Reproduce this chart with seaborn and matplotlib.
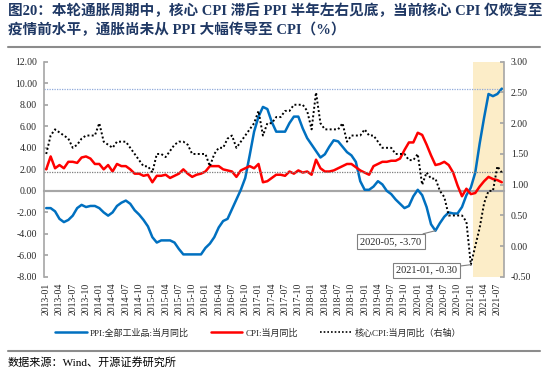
import matplotlib
matplotlib.use("Agg")
import matplotlib.pyplot as plt
from matplotlib.lines import Line2D
from matplotlib.ticker import MultipleLocator, FixedLocator
import seaborn as sns
import pandas as pd
import numpy as np

# ---------------- data ----------------
months = [d.strftime("%Y-%m") for d in pd.date_range("2013-01", "2021-08", freq="MS")]

ppi = [-1.6, -1.6, -1.9, -2.6, -2.9, -2.7, -2.3, -1.6, -1.3, -1.5, -1.4, -1.4,
       -1.6, -2.0, -2.3, -2.0, -1.4, -1.1, -0.9, -1.2, -1.8, -2.2, -2.7, -3.3,
       -4.3, -4.8, -4.6, -4.6, -4.6, -4.8, -5.4, -5.9, -5.9, -5.9, -5.9, -5.9,
       -5.3, -4.9, -4.3, -3.4, -2.8, -2.6, -1.7, -0.8, 0.1, 1.2, 3.3, 5.5,
       6.9, 7.8, 7.6, 6.4, 5.5, 5.5, 5.5, 6.3, 6.9, 6.9, 5.8, 4.9,
       4.3, 3.7, 3.1, 3.4, 4.1, 4.7, 4.6, 4.1, 3.6, 3.3, 2.7, 0.9,
       0.1, 0.1, 0.4, 0.9, 0.6, 0.0, -0.3, -0.8, -1.2, -1.6, -1.4, -0.5,
       0.1, -0.4, -1.5, -3.1, -3.7, -3.0, -2.4, -2.0, -2.1, -2.1, -1.5, -0.4,
       0.3, 1.7, 4.4, 6.8, 9.0, 8.8, 9.0, 9.5]

cpi = [2.0, 3.2, 2.1, 2.4, 2.1, 2.7, 2.7, 2.6, 3.1, 3.2, 3.0, 2.5,
       2.5, 2.0, 2.4, 1.8, 2.5, 2.3, 2.3, 2.0, 1.6, 1.6, 1.4, 1.5,
       0.8, 1.4, 1.4, 1.5, 1.2, 1.4, 1.6, 2.0, 1.6, 1.3, 1.5, 1.6,
       1.8, 2.3, 2.3, 2.3, 2.0, 1.9, 1.8, 1.3, 1.9, 2.1, 2.3, 2.1,
       2.5, 0.8, 0.9, 1.2, 1.5, 1.5, 1.4, 1.8, 1.6, 1.9, 1.7, 1.8,
       1.5, 2.9, 2.1, 1.8, 1.8, 1.9, 2.1, 2.3, 2.5, 2.5, 2.2, 1.9,
       1.7, 1.5, 2.3, 2.5, 2.7, 2.7, 2.8, 2.8, 3.0, 3.8, 4.5, 4.5,
       5.4, 5.2, 4.3, 3.3, 2.4, 2.5, 2.7, 2.4, 1.7, 0.5, -0.5, 0.2,
       -0.3, -0.2, 0.4, 0.9, 1.3, 1.1, 1.0, 0.8]

core = [1.5, 1.8, 1.9, 1.85, 1.8, 1.75, 1.6, 1.65, 1.75, 1.8, 1.8, 1.8,
        2.0, 1.7, 1.65, 1.6, 1.7, 1.7, 1.7, 1.6, 1.5, 1.4, 1.3, 1.3,
        1.2, 1.5, 1.5, 1.45, 1.55, 1.65, 1.7, 1.7, 1.65, 1.5, 1.5, 1.5,
        1.5, 1.3, 1.5, 1.6, 1.6, 1.75, 1.8, 1.6, 1.7, 1.8, 1.9, 2.0,
        2.2, 1.8, 2.0, 2.0, 2.1, 2.1, 2.2, 2.2, 2.3, 2.3, 2.3, 2.2,
        1.9, 2.5, 2.0, 1.9, 1.9, 1.9, 1.9, 2.0, 1.7, 1.8, 1.8, 1.8,
        1.9, 1.8, 1.8, 1.7, 1.6, 1.6, 1.6, 1.5, 1.5, 1.5, 1.4, 1.4,
        1.5, 1.0, 1.2, 1.1, 1.1, 0.9, 0.8, 0.5, 0.5, 0.5, 0.5, 0.4,
        -0.3, 0.0, 0.3, 0.7, 0.9, 0.9, 1.3, 1.2]

label_ppi = "PPI:全部工业品:当月同比"
label_cpi = "CPI:当月同比"
label_core = "核心CPI:当月同比（右轴）"
title_text = ("图20：本轮通胀周期中，核心 CPI 滞后 PPI 半年左右见底，当前核心 CPI 仅恢复至\n"
              "疫情前水平，通胀尚未从 PPI 大幅传导至 CPI（%）")
source_text = "数据来源：Wind、开源证券研究所"
annot_ppi_month = "2020-05"
annot_core_month = "2021-01"
shade_start_month = "2021-01"

# ---------------- style ----------------
sns.set_theme(style="white")
plt.rcParams["font.family"] = ["Liberation Serif", "Noto Sans CJK SC"]
plt.rcParams["axes.unicode_minus"] = False

df = pd.DataFrame({"idx": np.arange(len(months)), "month": months,
                   "ppi": ppi, "cpi": cpi, "core": core})

fig = plt.figure(figsize=(5.5, 3.77), dpi=100)
ax = fig.add_axes([44/550, 1-277/377, (504-44)/550, (277-61.7)/377])
ax2 = ax.twinx()

grey = "#A6A6A6"
n = len(months)
ax.set_xlim(-0.5, n - 0.5)
ax.set_ylim(-8, 12)
ax2.set_ylim(-0.5, 3.0)

# shaded region
s0 = months.index(shade_start_month) + 0.4
ax.axvspan(s0, n - 0.5, color="#FCEDC8", lw=0, zorder=0)

# reference lines
ax.axhline(0, color=grey, lw=1.5, zorder=1)
ax.axhline(ppi[-1], color="#8EA9DB", lw=0.9, ls=(0, (1, 1)), zorder=1)
ax2.axhline(core[-1], color="#7F7F7F", lw=0.9, ls=(0, (1, 1)), zorder=1)

sns.lineplot(data=df, x="idx", y="ppi", ax=ax, color="#0070C0", lw=1.8,
             label=label_ppi, legend=False, zorder=3)
sns.lineplot(data=df, x="idx", y="cpi", ax=ax, color="#FF0000", lw=1.8,
             label=label_cpi, legend=False, zorder=3)
sns.lineplot(data=df, x="idx", y="core", ax=ax2, color="black", lw=1.4,
             ls=(0, (1, 1.2)), label=label_core, legend=False, zorder=3)

# axes formatting
ax.set_xlabel("")
ax.set_ylabel("")
ax2.set_ylabel("")
for a in (ax, ax2):
    a.spines["top"].set_visible(False)
    a.grid(False)
ax2.spines["bottom"].set_visible(False)
ax2.spines["left"].set_visible(False)
ax.spines["right"].set_visible(False)
ax.spines["left"].set_color(grey)
ax.spines["left"].set_linewidth(1.2)
ax2.spines["right"].set_color(grey)
ax2.spines["right"].set_linewidth(1.2)
ax.spines["bottom"].set_position(("data", 0))
ax.spines["bottom"].set_color(grey)
ax.spines["bottom"].set_linewidth(1.5)

ax.yaxis.set_major_locator(MultipleLocator(2))
ax.set_yticks(np.arange(-8, 12.01, 2))
ax.set_yticklabels([f"{v:.2f}" for v in np.arange(-8, 12.01, 2)], fontsize=7)
ax2.set_yticks(np.arange(-0.5, 3.01, 0.5))
ax2.set_yticklabels([f"{v:.2f}" for v in np.arange(-0.5, 3.01, 0.5)], fontsize=7)
ax.tick_params(axis="y", direction="in", length=3, color=grey, pad=5)
ax2.tick_params(axis="y", direction="in", length=3, color=grey, pad=5)

xt = list(range(0, n, 3))
ax.set_xticks(xt)
ax.set_xticklabels([months[i] for i in xt], rotation=90, fontsize=7)
ax.xaxis.set_minor_locator(FixedLocator([i - 0.5 for i in xt]))
ax.tick_params(axis="x", which="major", length=0, pad=66)
ax.tick_params(axis="x", which="minor", direction="in", length=3, color=grey, width=0.8)

# annotations
bbox = dict(boxstyle="square,pad=0.3", fc="white", ec="#808080", lw=0.8)
i1 = months.index(annot_ppi_month)
ax.annotate(f"{annot_ppi_month}, {ppi[i1]:.2f}", xy=(i1, ppi[i1]),
            xytext=(-32, -8), textcoords="offset points", ha="center", va="center",
            fontsize=7.5, bbox=bbox,
            arrowprops=dict(arrowstyle="-", color="#808080", lw=0.8, shrinkA=0, shrinkB=0),
            zorder=5)
i2 = months.index(annot_core_month)
ax2.annotate(f"{annot_core_month}, {core[i2]:.2f}", xy=(i2, core[i2]),
             xytext=(-32, -4), textcoords="offset points", ha="center", va="center",
             fontsize=7.5, bbox=bbox,
             arrowprops=dict(arrowstyle="-", color="#808080", lw=0.8, shrinkA=0, shrinkB=0),
             zorder=5)

# legend
h1 = Line2D([], [], color="#0070C0", lw=1.8)
h2 = Line2D([], [], color="#FF0000", lw=1.8)
h3 = Line2D([], [], color="black", lw=1.2, ls=(0, (1, 1.2)))
fig.legend([h1, h2, h3], [label_ppi, label_cpi, label_core], loc="center",
           bbox_to_anchor=(258/550, 1-333/377), ncol=3, frameon=False,
           fontsize=6.5, handlelength=3.5, columnspacing=2.5, handletextpad=0.3)

# title, separators, source
fig.text(8/550, 1-3/377, title_text, ha="left", va="top", fontsize=10.5,
         fontweight="bold", color="#1F3864", linespacing=1.45)
fig.add_artist(Line2D([8/550, 540/550], [1-47/377, 1-47/377], color="#8C8C8C", lw=1.5))
fig.add_artist(Line2D([8/550, 540/550], [1-350.5/377, 1-350.5/377], color="#8C8C8C", lw=1.5))
fig.text(8/550, 1-362/377, source_text, ha="left", va="center", fontsize=8, color="black")

fig.savefig("out.png", dpi=100)
